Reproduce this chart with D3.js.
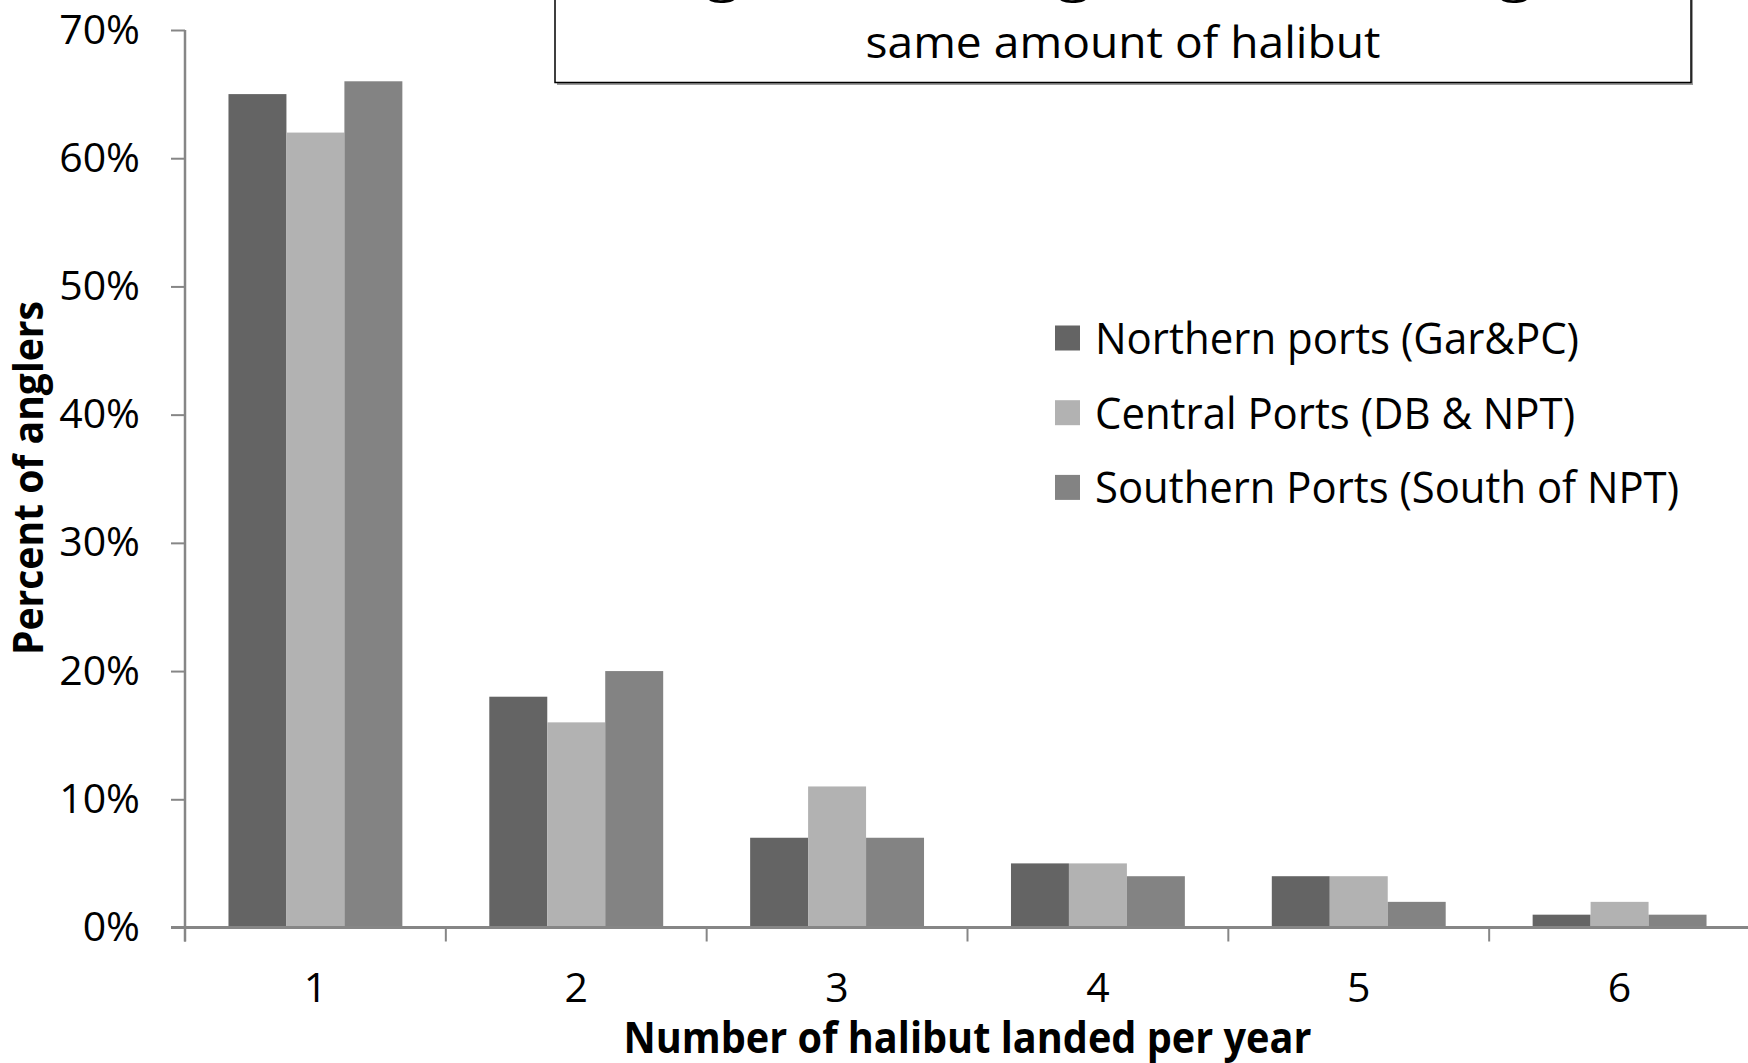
<!DOCTYPE html>
<html>
<head>
<meta charset="utf-8">
<script src="https://cdn.jsdelivr.net/npm/d3@7"></script>
<style>
  body { margin: 0; background: #fff; }
  text { font-family: "Open Sans", sans-serif; fill: #000; }
</style>
</head>
<body>
<div id="chart"></div>
<script>
// data
let categories = ["1", "2", "3", "4", "5", "6"];
let seriesNames = ["Northern ports (Gar&PC)", "Central Ports (DB & NPT)", "Southern Ports (South of NPT)"];
let northern = [0.65, 0.18, 0.07, 0.05, 0.04, 0.01];
let central  = [0.62, 0.16, 0.11, 0.05, 0.04, 0.02];
let southern = [0.66, 0.20, 0.07, 0.04, 0.02, 0.01];
let yTicks = [0, 0.1, 0.2, 0.3, 0.4, 0.5, 0.6, 0.7];
let titleLines = ["Anglers in all regions are landing the", "same amount of halibut"];

let colors = ["#646464", "#b2b2b2", "#838383"];
let width = 1748, height = 1063;
let margin = {top: 30, right: -2, bottom: 135.5, left: 185};

let svg = d3.select("#chart").append("svg")
  .attr("width", width)
  .attr("height", height);

// Scales
let x0 = d3.scaleBand()
  .domain(categories)
  .range([margin.left, width - margin.right])
  .paddingInner(1/3)
  .paddingOuter(1/6);
let x1 = d3.scaleBand()
  .domain(seriesNames)
  .range([0, x0.bandwidth()]);
let y = d3.scaleLinear()
  .domain([0, 0.7])
  .range([height - margin.bottom, margin.top]);

let values = [northern, central, southern];
let rows = categories.map((c, i) => ({cat: c, vals: seriesNames.map((s, j) => ({s: s, j: j, v: values[j][i]}))}));

// bars
let groups = svg.append("g").selectAll("g")
  .data(rows)
  .join("g")
  .attr("transform", d => "translate(" + x0(d.cat) + ",0)");
groups.selectAll("rect")
  .data(d => d.vals)
  .join("rect")
  .attr("x", d => x1(d.s))
  .attr("y", d => y(d.v))
  .attr("width", x1.bandwidth())
  .attr("height", d => y(0) - y(d.v))
  .attr("fill", d => colors[d.j]);

// y axis
let yAxis = d3.axisLeft(y)
  .tickValues(yTicks)
  .tickFormat(d3.format(".0%"))
  .tickSize(14)
  .tickPadding(31);
let gy = svg.append("g")
  .attr("transform", "translate(" + margin.left + ",0)")
  .call(yAxis);
gy.select(".domain").remove();
gy.append("line")
  .attr("x1", 0).attr("x2", 0)
  .attr("y1", y(0.7)).attr("y2", y(0) + 14)
  .attr("stroke", "#868686").attr("stroke-width", 2.5);
gy.selectAll(".tick line").attr("stroke", "#868686").attr("stroke-width", 2);
gy.selectAll(".tick text")
  .attr("font-size", 41)
  .attr("font-family", "Open Sans")
  .attr("fill", "#000");

// x axis: ticks on category boundaries
let step = x0.step();
let bounds = categories.map(c => x0(c) - step / 6);
bounds.push(x0(categories[categories.length - 1]) + x0.bandwidth() + step / 6);
let gx = svg.append("g");
gx.append("line")
  .attr("x1", margin.left - 14).attr("x2", width)
  .attr("y1", y(0)).attr("y2", y(0))
  .attr("stroke", "#868686").attr("stroke-width", 3);
gx.selectAll(".bt")
  .data(bounds)
  .join("line")
  .attr("class", "bt")
  .attr("x1", d => d).attr("x2", d => d)
  .attr("y1", y(0)).attr("y2", y(0) + 14)
  .attr("stroke", "#868686").attr("stroke-width", 2);
gx.selectAll(".lab")
  .data(categories)
  .join("text")
  .attr("class", "lab")
  .attr("x", d => x0(d) + x0.bandwidth() / 2)
  .attr("y", 1002)
  .attr("text-anchor", "middle")
  .attr("font-size", 41)
  .text(d => d);

// axis titles
svg.append("text")
  .attr("x", (margin.left + width - margin.right) / 2)
  .attr("y", 1053)
  .attr("text-anchor", "middle")
  .attr("font-size", 43)
  .attr("font-weight", "bold")
  .attr("textLength", 688)
  .attr("lengthAdjust", "spacingAndGlyphs")
  .text("Number of halibut landed per year");
svg.append("text")
  .attr("transform", "translate(43," + 478 + ") rotate(-90)")
  .attr("text-anchor", "middle")
  .attr("font-size", 41)
  .attr("font-weight", "bold")
  .attr("textLength", 354)
  .attr("lengthAdjust", "spacingAndGlyphs")
  .text("Percent of anglers");

// title box (top line is cut off by the picture edge)
let tb = svg.append("g");
tb.append("rect")
  .attr("x", 557).attr("y", -20)
  .attr("width", 1136).attr("height", 105)
  .attr("fill", "#9a9a9a");
tb.append("rect")
  .attr("x", 555).attr("y", -20)
  .attr("width", 1136).attr("height", 102.5)
  .attr("fill", "#fff")
  .attr("stroke", "#000")
  .attr("stroke-width", 1.5);
tb.append("text")
  .attr("x", 1135).attr("y", -8)
  .attr("text-anchor", "middle")
  .attr("font-size", 44)
  .attr("textLength", 1005)
  .attr("lengthAdjust", "spacingAndGlyphs")
  .text(titleLines[0]);
tb.append("text")
  .attr("x", 1123).attr("y", 58)
  .attr("text-anchor", "middle")
  .attr("font-size", 44)
  .attr("textLength", 515)
  .attr("lengthAdjust", "spacingAndGlyphs")
  .text(titleLines[1]);

// legend
let legendWidths = [484, 480, 584];
let legend = svg.append("g").selectAll("g")
  .data(seriesNames)
  .join("g")
  .attr("transform", (d, i) => "translate(1055," + (338 + i * 74.7) + ")");
legend.append("rect")
  .attr("x", 0).attr("y", -12.5)
  .attr("width", 25).attr("height", 25)
  .attr("fill", (d, i) => colors[i]);
legend.append("text")
  .attr("x", 40).attr("y", 0)
  .attr("dy", "0.36em")
  .attr("font-size", 44)
  .attr("textLength", (d, i) => legendWidths[i])
  .attr("lengthAdjust", "spacingAndGlyphs")
  .text(d => d);
</script>
</body>
</html>
